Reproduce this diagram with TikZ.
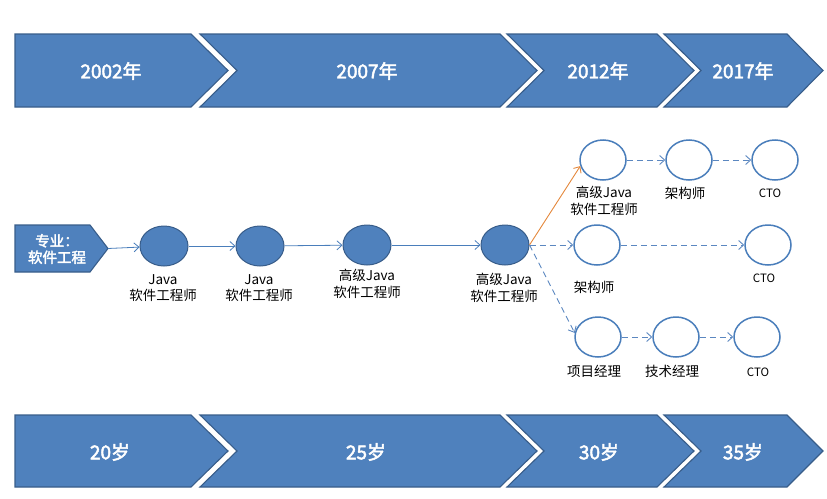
\documentclass[tikz,border=0pt]{standalone}
\usepackage{fontspec}
\setmainfont{Noto Sans CJK SC}[AutoFakeBold=2.5]
\usetikzlibrary{arrows.meta,shapes.geometric}
\definecolor{bandfill}{HTML}{4F81BD}
\definecolor{banddraw}{HTML}{385D8A}
\definecolor{ringblue}{HTML}{4A7EBB}
\definecolor{lineblue}{HTML}{4A7EBB}
\definecolor{dashblue}{HTML}{5B87C0}
\definecolor{orangeline}{HTML}{E4883C}
\tikzset{
  band/.style={fill=bandfill,draw=banddraw,line width=1.1pt,line join=miter},
  bandtext/.style={text=white,font=\fontsize{19}{22}\selectfont\bfseries},
  filledc/.style={ellipse,fill=bandfill,draw=banddraw,line width=1pt,minimum width=48pt,minimum height=40pt,inner sep=0pt},
  ringc/.style={ellipse,draw=ringblue,line width=1.5pt,fill=white,minimum width=46pt,minimum height=40pt,inner sep=0pt},
  lbl/.style={align=center,text=black,font=\fontsize{13.5}{16.5}\selectfont,inner sep=0pt},
  ctolbl/.style={text=black,font=\fontsize{11.5}{13}\selectfont,inner sep=0pt},
  conn/.style={draw=lineblue,line width=0.8pt,-{Straight Barb[length=5pt,width=9pt]}},
  dconn/.style={draw=dashblue,line width=0.9pt,dash pattern=on 6pt off 4pt,-{Straight Barb[length=5pt,width=9pt]}},
  oconn/.style={draw=orangeline,line width=0.9pt,-{Straight Barb[length=5pt,width=9pt]}},
}
\begin{document}
\begin{tikzpicture}[x=1pt,y=-1pt]
\useasboundingbox (0,0) rectangle (827,498);
% top band
\draw[band] (15,34) -- (191,34) -- (228,70.5) -- (191,107) -- (15,107) -- cycle;
\draw[band] (200,34) -- (500,34) -- (537,70.5) -- (500,107) -- (200,107) -- (237,70.5) -- cycle;
\draw[band] (507,34) -- (657,34) -- (694,70.5) -- (657,107) -- (507,107) -- (544,70.5) -- cycle;
\draw[band] (664,34) -- (787,34) -- (823,70.5) -- (787,107) -- (664,107) -- (701,70.5) -- cycle;
\node[bandtext] (y2002) at (111,71) {2002年};
\node[bandtext] (y2007) at (367,71) {2007年};
\node[bandtext] (y2012) at (598,71) {2012年};
\node[bandtext] (y2017) at (743,71) {2017年};
% bottom band
\draw[band] (15,415) -- (191,415) -- (228,451) -- (191,487) -- (15,487) -- cycle;
\draw[band] (200,415) -- (500,415) -- (537,451) -- (500,487) -- (200,487) -- (237,451) -- cycle;
\draw[band] (507,415) -- (657,415) -- (694,451) -- (657,487) -- (507,487) -- (544,451) -- cycle;
\draw[band] (664,415) -- (787,415) -- (823,451) -- (787,487) -- (664,487) -- (701,451) -- cycle;
\node[bandtext] (a20) at (110,452) {20岁};
\node[bandtext] (a25) at (366,452) {25岁};
\node[bandtext] (a30) at (599,452) {30岁};
\node[bandtext] (a35) at (743,452) {35岁};
% start node
\draw[band] (15,225) -- (90,225) -- (108,248.5) -- (90,272) -- (15,272) -- cycle;
\coordinate (st) at (108,248.5);
\node[align=center,text=white,font=\fontsize{14.5}{16.5}\selectfont\bfseries] (major) at (57,249) {专业：\\软件工程};
% main circles
\node[filledc] (c1) at (164,246) {};
\node[filledc] (c2) at (260,246) {};
\node[filledc] (c3) at (367,245) {};
\node[filledc] (c4) at (505,245) {};
\node[lbl] (l1) at (163,288) {Java\\软件工程师};
\node[lbl] (l2) at (259,288) {Java\\软件工程师};
\node[lbl] (l3) at (367,284) {高级Java\\软件工程师};
\node[lbl] (l4) at (504,288) {高级Java\\软件工程师};
% branch circles
\node[ringc] (ca) at (603,160) {};
\node[ringc] (cb) at (689,160) {};
\node[ringc] (cc) at (775,160) {};
\node[ringc] (cd) at (597,245) {};
\node[ringc] (ce) at (768,245) {};
\node[ringc] (cf) at (598,337) {};
\node[ringc] (cg) at (676,337) {};
\node[ringc] (ch) at (757,337) {};
\node[lbl] (la) at (604,201) {高级Java\\软件工程师};
\node[lbl] (lb) at (685,193) {架构师};
\node[ctolbl] (lc) at (770,193) {CTO};
\node[lbl] (ld) at (594,287) {架构师};
\node[ctolbl] (le) at (764,278) {CTO};
\node[lbl] (lf) at (594,371) {项目经理};
\node[lbl] (lg) at (672,371) {技术经理};
\node[ctolbl] (lh) at (758,372) {CTO};
% connectors
\draw[conn] (st) -- (c1);
\draw[conn] (c1) -- (c2);
\draw[conn] (c2) -- (c3);
\draw[conn] (c3) -- (c4);
\draw[oconn] (c4.east) -- (ca.195);
\draw[dconn] (c4.east) -- (cd);
\draw[dconn] (c4.east) -- (cf.170);
\draw[dconn] (ca) -- (cb);
\draw[dconn] (cb) -- (cc);
\draw[dconn] (cd) -- (ce);
\draw[dconn] (cf) -- (cg);
\draw[dconn] (cg) -- (ch);
\end{tikzpicture}
\end{document}
